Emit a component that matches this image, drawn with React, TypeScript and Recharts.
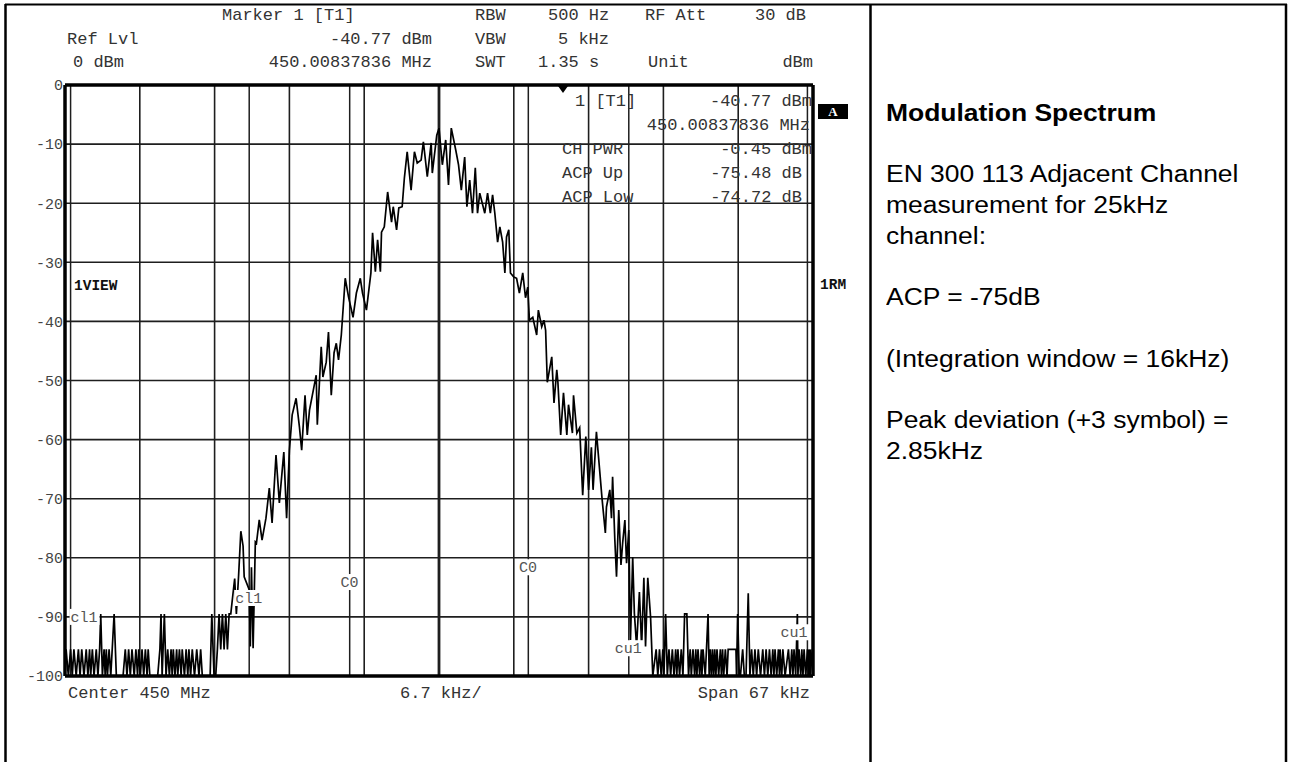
import { Line, LineChart, ReferenceDot, ReferenceLine, XAxis, YAxis } from "recharts";

// trace: [offset from 450 MHz in kHz, level in dBm]
const trace: [number, number][] = [
  [-33.5, -100], [-33.4, -95.5], [-33.2, -100], [-33.0, -95.5], [-32.85, -100], [-32.7, -95.5], [-32.5, -100],
  [-32.3, -95.5], [-32.15, -100], [-32.0, -95.5], [-31.8, -100], [-31.6, -95.5], [-31.45, -100], [-31.3, -95.5],
  [-31.2, -100], [-31.05, -95.5], [-30.9, -100], [-30.7, -95.5], [-30.55, -100], [-30.4, -95.5], [-30.3, -89.5],
  [-30.15, -100], [-30.0, -95.5], [-29.9, -100], [-29.8, -95.5], [-29.7, -100], [-29.55, -95.5], [-29.4, -100],
  [-29.1, -89.5], [-28.9, -100], [-28.3, -100], [-28.1, -95.5], [-27.95, -100], [-27.8, -95.5], [-27.65, -100],
  [-27.5, -95.5], [-27.3, -100], [-27.15, -95.5], [-27.0, -100], [-26.9, -95.5], [-26.75, -100], [-26.6, -95.5],
  [-26.45, -100], [-26.3, -95.5], [-26.15, -100], [-26.05, -95.5], [-25.9, -100], [-25.2, -100], [-25.0, -95.5],
  [-24.9, -89.5], [-24.8, -100], [-24.6, -89.5], [-24.45, -100], [-24.3, -95.5], [-24.15, -100], [-24.0, -95.5],
  [-23.9, -100], [-23.8, -95.5], [-23.65, -100], [-23.5, -95.5], [-23.4, -100], [-23.25, -95.5], [-23.1, -100],
  [-23.0, -95.5], [-22.8, -100], [-22.65, -95.5], [-22.5, -100], [-22.4, -95.5], [-22.25, -100], [-22.1, -95.5],
  [-21.9, -100], [-21.7, -95.5], [-21.5, -100], [-21.35, -95.5], [-21.2, -100], [-20.5, -100], [-20.35, -89.5],
  [-20.15, -100], [-20.0, -100], [-19.85, -95.5], [-19.7, -89.5], [-19.55, -95.5], [-19.4, -89.5], [-19.25, -95.5],
  [-19.1, -89.5], [-18.95, -95.5], [-18.8, -89.5], [-18.65, -89.5], [-18.45, -86], [-18.3, -83.5], [-18.15, -89.5],
  [-17.95, -83], [-17.75, -75.5], [-17.55, -78], [-17.45, -83.2], [-17.0, -85.4], [-16.9, -95], [-16.8, -81.6],
  [-16.65, -95.3], [-16.45, -77.3], [-16.35, -77.5], [-16.1, -73.6], [-15.85, -77], [-15.5, -73.3], [-15.2, -68.2],
  [-14.95, -74.1], [-14.6, -62.6], [-14.3, -70.7], [-13.9, -62.1], [-13.65, -73.3], [-13.4, -61.8], [-13.15, -55.8],
  [-12.8, -53], [-12.5, -57.9], [-12.3, -61.8], [-12.0, -52.5], [-11.8, -59.2], [-11.6, -55], [-11.0, -49.1],
  [-10.9, -57.5], [-10.55, -44.3], [-10.4, -49.4], [-10.1, -46.9], [-9.9, -41.8], [-9.65, -52.5], [-9.4, -45.3],
  [-9.2, -43.7], [-9.0, -46.5], [-8.75, -42.3], [-8.4, -32.7], [-8.1, -35.9], [-7.7, -39.3], [-7.4, -35.2],
  [-7.05, -32.7], [-6.85, -35.2], [-6.5, -38.1], [-6.1, -31.8], [-5.95, -25], [-5.7, -31.6], [-5.5, -26.2],
  [-5.25, -31.6], [-5.15, -24.9], [-4.9, -24], [-4.6, -18.1], [-4.25, -23.2], [-4.1, -20.6], [-3.8, -24.5],
  [-3.6, -20.8], [-3.3, -20.6], [-3.1, -15.7], [-2.85, -11.3], [-2.5, -17.8], [-2.2, -11.3], [-1.95, -13.2],
  [-1.6, -12.7], [-1.4, -9.6], [-1.05, -15.5], [-0.7, -9.8], [-0.6, -14.9], [-0.2, -8.5], [0, -7.3], [0.3, -13.5],
  [0.6, -9.3], [0.85, -16.9], [1.1, -7.3], [1.5, -11], [1.75, -13.5], [2.0, -17.8], [2.3, -12.2], [2.5, -20.6],
  [2.75, -16.1], [3.0, -21.7], [3.25, -14], [3.45, -21.7], [3.65, -18.3], [4.1, -21.7], [4.35, -18.3], [4.6, -21.7],
  [4.8, -18.6], [5.0, -21.7], [5.25, -26.6], [5.45, -24], [5.7, -26.6], [5.9, -31.8], [6.05, -25.7], [6.25, -24.5],
  [6.4, -31.8], [6.7, -32.5], [6.95, -32.7], [7.2, -35.2], [7.5, -31.8], [7.75, -36], [7.95, -34.2], [8.1, -39.8],
  [8.4, -39.3], [8.75, -42.3], [8.9, -38.1], [9.2, -40.9], [9.4, -39.8], [9.55, -41.5], [9.7, -50.3], [10.1, -46],
  [10.3, -53.8], [10.55, -48.2], [10.65, -50.3], [10.9, -59.2], [11.15, -52.1], [11.45, -59.2], [11.6, -54.1],
  [11.95, -58.9], [12.05, -52.5], [12.35, -58.9], [12.6, -58], [12.87, -69.4], [13.15, -59.5], [13.4, -68.5],
  [13.65, -61.3], [13.8, -68.5], [14.1, -58.7], [14.6, -69.9], [14.9, -75.8], [15.0, -71.4], [15.3, -68.5],
  [15.45, -73.3], [15.55, -66.3], [15.75, -77], [15.9, -83.2], [16.1, -71.9], [16.3, -81.2], [16.45, -77.5],
  [16.65, -73.6], [16.8, -80.9], [17.0, -75.3], [17.15, -93.9], [17.35, -79.9], [17.5, -89.4], [17.7, -95],
  [17.95, -85.8], [18.15, -95], [18.35, -83.4], [18.5, -95], [18.7, -83.4], [18.95, -90], [19.15, -100],
  [19.45, -95.5], [19.6, -100], [19.75, -95.5], [19.9, -100], [20.05, -95.5], [20.15, -100], [20.3, -89.5],
  [20.45, -100], [20.6, -95.5], [20.75, -100], [20.9, -95.5], [21.05, -100], [21.2, -95.5], [21.3, -100],
  [21.4, -95.5], [21.55, -100], [21.7, -95.5], [21.85, -100], [22.0, -89.5], [22.2, -89.5], [22.35, -100],
  [22.5, -95.5], [22.6, -100], [22.75, -95.5], [22.9, -100], [23.0, -95.5], [23.1, -100], [23.2, -95.5],
  [23.35, -100], [23.5, -95.5], [23.55, -100], [23.65, -95.5], [23.85, -100], [24.1, -89.5], [24.2, -100],
  [24.3, -95.5], [24.4, -100], [24.5, -95.5], [24.6, -100], [24.7, -95.5], [24.8, -100], [24.9, -95.5],
  [25.05, -100], [25.2, -95.5], [25.3, -100], [25.4, -95.5], [25.5, -100], [25.65, -95.5], [25.8, -100],
  [25.9, -95.5], [26.6, -95.5], [26.65, -100], [26.75, -89.5], [26.9, -100], [27.0, -100], [27.2, -95.5],
  [27.35, -100], [27.5, -100], [27.7, -86], [27.85, -100], [28.0, -95.5], [28.15, -100], [28.3, -95.5],
  [28.45, -100], [28.6, -95.5], [28.8, -100], [29.0, -95.5], [29.15, -100], [29.3, -95.5], [29.45, -100],
  [29.6, -95.5], [29.75, -100], [29.9, -95.5], [30.0, -100], [30.1, -95.5], [30.25, -100], [30.4, -95.5],
  [30.5, -100], [30.55, -95.5], [30.7, -100], [30.8, -95.5], [31.0, -100], [31.3, -95.5], [31.45, -100],
  [31.6, -95.5], [31.7, -100], [31.8, -95.5], [31.95, -100], [32.1, -89.5], [32.15, -100], [32.25, -95.5],
  [32.4, -100], [32.5, -95.5], [32.6, -100], [32.7, -95.5], [32.85, -100], [33.0, -95.5], [33.1, -100],
  [33.15, -95.5], [33.25, -100], [33.3, -95.5], [33.5, -100],
];

// 10 divisions of 6.7 kHz, 10 dB/div
const divisions = [-33.5, -26.8, -20.1, -13.4, -6.7, 0, 6.7, 13.4, 20.1, 26.8, 33.5];
const levels = [0, -10, -20, -30, -40, -50, -60, -70, -80, -90, -100];

// channel limits: TX 16 kHz wide, adjacent channels at +-25 kHz
const channelEdges = [-33, -17, -8, 8, 17, 33];
const channelTags = [
  { f: -33, level: -90, text: "cl1", anchor: "start" },
  { f: -17, level: -86.8, text: "cl1", anchor: "middle" },
  { f: -8, level: -84.1, text: "C0", anchor: "middle" },
  { f: 8, level: -81.6, text: "C0", anchor: "middle" },
  { f: 17, level: -95.3, text: "cu1", anchor: "middle" },
  { f: 33, level: -92.6, text: "cu1", anchor: "end" },
];

const header = [
  { x: 222, y: 20, text: "Marker 1 [T1]" },
  { x: 475, y: 20, text: "RBW" },
  { x: 548, y: 20, text: "500 Hz" },
  { x: 645, y: 20, text: "RF Att" },
  { x: 755, y: 20, text: "30 dB" },
  { x: 67, y: 44, text: "Ref Lvl" },
  { x: 432, y: 44, text: "-40.77 dBm", end: true },
  { x: 475, y: 44, text: "VBW" },
  { x: 558, y: 44, text: "5 kHz" },
  { x: 73, y: 67, text: "0 dBm" },
  { x: 432, y: 67, text: "450.00837836 MHz", end: true },
  { x: 475, y: 67, text: "SWT" },
  { x: 538, y: 67, text: "1.35 s" },
  { x: 648, y: 67, text: "Unit" },
  { x: 813, y: 67, text: "dBm", end: true },
  { x: 575, y: 106, text: "1 [T1]" },
  { x: 812, y: 106, text: "-40.77 dBm", end: true },
  { x: 810, y: 130, text: "450.00837836 MHz", end: true },
  { x: 562, y: 154, text: "CH PWR" },
  { x: 812, y: 154, text: "-0.45 dBm", end: true },
  { x: 562, y: 178, text: "ACP Up" },
  { x: 802, y: 178, text: "-75.48 dB", end: true },
  { x: 562, y: 202, text: "ACP Low" },
  { x: 802, y: 202, text: "-74.72 dB", end: true },
  { x: 68, y: 698, text: "Center 450 MHz" },
  { x: 400, y: 698, text: "6.7 kHz/" },
  { x: 810, y: 698, text: "Span 67 kHz", end: true },
];

const notes = [
  "Modulation Spectrum",
  "",
  "EN 300 113 Adjacent Channel",
  "measurement for 25kHz",
  "channel:",
  "",
  "ACP = -75dB",
  "",
  "(Integration window = 16kHz)",
  "",
  "Peak deviation (+3 symbol) =",
  "2.85kHz",
];

const mono = "'Liberation Mono', 'Courier New', monospace";
const ink = "#1e1e1e";

function Tag({ cx, cy, text, anchor }: any) {
  const w = text.length * 9.3 + 2;
  const x0 = anchor === "start" ? cx - 1 : anchor === "end" ? cx - w + 2 : cx - w / 2;
  return (
    <g>
      <rect x={x0} y={cy - 8} width={w} height={16} fill="#fff" />
      <text x={x0 + 1} y={cy + 5} fontFamily={mono} fontSize={15} fill="#555">{text}</text>
    </g>
  );
}

export default function App() {
  const points = trace.map(([f, v]) => ({ f, v }));
  return (
    <div style={{ position: "absolute", left: 0, top: 0, width: 1289, height: 762, background: "#fff", overflow: "hidden" }}>
      <LineChart width={1289} height={762} data={points} margin={{ top: 85, right: 476, bottom: 86, left: 0 }}>
        <XAxis dataKey="f" type="number" domain={[-33.5, 33.5]} hide />
        <YAxis
          type="number"
          domain={[-100, 0]}
          ticks={levels}
          interval={0}
          width={65}
          axisLine={false}
          tickLine={false}
          tickSize={0}
          tickMargin={2}
          tick={{ fontFamily: mono, fontSize: 15, fill: "#444" }}
        />
        {levels.slice(1, -1).map((l) => (
          <ReferenceLine key={"h" + l} y={l} stroke={ink} strokeWidth={1.6} />
        ))}
        {divisions.slice(1, -1).map((d) => (
          <ReferenceLine key={"v" + d} x={d} stroke={ink} strokeWidth={d === 0 ? 2.8 : 1.6} />
        ))}
        {channelEdges.map((c) => (
          <ReferenceLine key={"c" + c} x={c} stroke={ink} strokeWidth={1.5} />
        ))}
        {channelTags.map((t, i) => (
          <ReferenceDot key={"t" + i} x={t.f} y={t.level} r={0} shape={(p: any) => <Tag {...p} text={t.text} anchor={t.anchor} />} />
        ))}
        <ReferenceLine x={-33.5} stroke="#000" strokeWidth={3.5} />
        <ReferenceLine x={33.5} stroke="#000" strokeWidth={3.5} />
        <ReferenceLine y={0} stroke="#000" strokeWidth={3.5} />
        <ReferenceLine y={-100} stroke="#000" strokeWidth={3.5} />
        <Line dataKey="v" type="linear" stroke="#000" strokeWidth={1.7} dot={false} isAnimationActive={false} />
      </LineChart>

      <svg width={1289} height={762} style={{ position: "absolute", left: 0, top: 0, pointerEvents: "none" }}>
        <line x1={5} y1={4.5} x2={1287} y2={4.5} stroke="#000" strokeWidth={2} />
        <line x1={5.5} y1={4} x2={5.5} y2={762} stroke="#000" strokeWidth={2.5} />
        <line x1={870.5} y1={4} x2={870.5} y2={762} stroke="#000" strokeWidth={2.5} />
        <line x1={1286} y1={4} x2={1286} y2={762} stroke="#000" strokeWidth={2.5} />
        {header.map((h, i) => (
          <text key={i} x={h.x} y={h.y} textAnchor={h.end ? "end" : "start"} fontFamily={mono} fontSize={17} fill="#333" xmlSpace="preserve">
            {h.text}
          </text>
        ))}
        <polygon points="558,86 568,86 563,93" fill="#000" />
        <text x={74} y={290} fontFamily={mono} fontSize={14.5} fontWeight="bold" fill="#111">1VIEW</text>
        <text x={820} y={289} fontFamily={mono} fontSize={14.5} fontWeight="bold" fill="#111">1RM</text>
        <rect x={818} y={104} width={30} height={15} fill="#000" />
        <text x={833} y={116} textAnchor="middle" fontFamily="'Liberation Serif', serif" fontSize={13} fontWeight="bold" fill="#fff">A</text>
      </svg>

      <div
        style={{
          position: "absolute",
          left: 886,
          top: 98,
          fontFamily: "'Liberation Sans', Arial, sans-serif",
          fontSize: 23,
          lineHeight: "30.7px",
          color: "#000",
          transform: "scaleX(1.15)",
          transformOrigin: "left top",
          whiteSpace: "nowrap",
        }}
      >
        {notes.map((n, i) => (
          <div key={i} style={{ height: 30.7, fontWeight: i === 0 ? "bold" : "normal" }}>{n}</div>
        ))}
      </div>
    </div>
  );
}
